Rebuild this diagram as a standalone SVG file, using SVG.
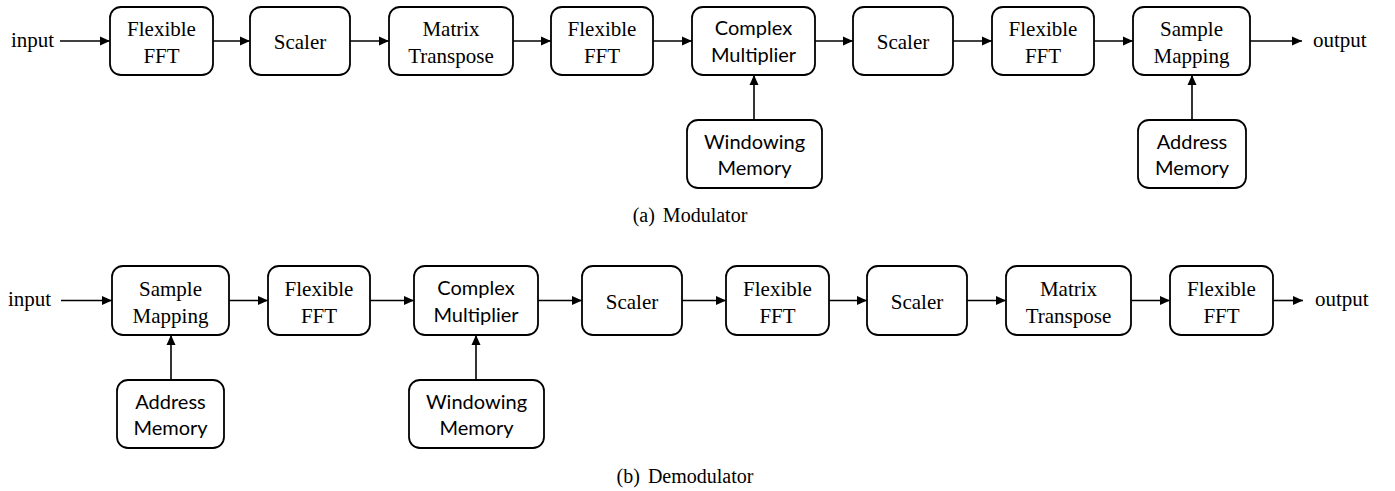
<svg xmlns="http://www.w3.org/2000/svg" width="1395" height="491" viewBox="0 0 1395 491">
<style>
.box{fill:#fff;stroke:#000;stroke-width:1.8}
.s{font-family:"Liberation Serif","Times New Roman",serif;font-size:21px;fill:#000;text-anchor:middle}
.io{font-family:"Liberation Serif","Times New Roman",serif;font-size:21px;fill:#000}
.c{font-family:Lato,"Open Sans",sans-serif;font-size:20px;fill:#000;text-anchor:middle}
.cap{font-family:"Liberation Serif","Times New Roman",serif;font-size:20px;fill:#000;text-anchor:middle;word-spacing:3px}
.ln{stroke:#000;stroke-width:1.6;fill:none;marker-end:url(#ah)}
</style>
<defs>
<marker id="ah" markerWidth="11" markerHeight="10" refX="10" refY="5" orient="auto" markerUnits="userSpaceOnUse">
<path d="M0,0.5 L10,5 L0,9.5 z" fill="#000"/>
</marker>
</defs>
<rect width="1395" height="491" fill="#fff"/>

<!-- (a) Modulator -->
<text class="io" x="11" y="47">input</text>
<g id="a_fft1"><rect class="box" x="110" y="7" width="103" height="68" rx="11"/><text class="s" x="161.5" y="36">Flexible</text><text class="s" x="161.5" y="63">FFT</text></g>
<g id="a_scaler1"><rect class="box" x="250" y="7" width="100" height="68" rx="11"/><text class="s" x="300" y="49">Scaler</text></g>
<g id="a_transpose"><rect class="box" x="389" y="7" width="124" height="68" rx="11"/><text class="s" x="451" y="36">Matrix</text><text class="s" x="451" y="63">Transpose</text></g>
<g id="a_fft2"><rect class="box" x="551" y="7" width="102" height="68" rx="11"/><text class="s" x="602" y="36">Flexible</text><text class="s" x="602" y="63">FFT</text></g>
<g id="a_cmul"><rect class="box" x="692" y="7" width="123" height="68" rx="11"/><text class="c" x="753.5" y="35">Complex</text><text class="c" x="753.5" y="62">Multiplier</text></g>
<g id="a_scaler2"><rect class="box" x="853" y="7" width="100" height="68" rx="11"/><text class="s" x="903" y="49">Scaler</text></g>
<g id="a_fft3"><rect class="box" x="992" y="7" width="102" height="68" rx="11"/><text class="s" x="1043" y="36">Flexible</text><text class="s" x="1043" y="63">FFT</text></g>
<g id="a_map"><rect class="box" x="1133" y="7" width="117" height="68" rx="11"/><text class="s" x="1191.5" y="36">Sample</text><text class="s" x="1191.5" y="63">Mapping</text></g>
<g id="a_win"><rect class="box" x="687" y="120" width="135" height="68" rx="11"/><text class="c" x="754.5" y="149">Windowing</text><text class="c" x="754.5" y="175">Memory</text></g>
<g id="a_addr"><rect class="box" x="1138" y="120" width="108" height="68" rx="11"/><text class="c" x="1192" y="149">Address</text><text class="c" x="1192" y="175">Memory</text></g>
<text class="io" x="1313" y="47">output</text>
<text class="cap" x="690" y="222">(a) Modulator</text>

<!-- (b) Demodulator -->
<text class="io" x="8" y="306">input</text>
<g id="b_map"><rect class="box" x="112" y="266" width="117" height="69" rx="11"/><text class="s" x="170.5" y="295.5">Sample</text><text class="s" x="170.5" y="322.5">Mapping</text></g>
<g id="b_fft1"><rect class="box" x="268" y="266" width="102" height="69" rx="11"/><text class="s" x="319" y="295.5">Flexible</text><text class="s" x="319" y="322.5">FFT</text></g>
<g id="b_cmul"><rect class="box" x="414" y="266" width="124" height="69" rx="11"/><text class="c" x="476" y="294.5">Complex</text><text class="c" x="476" y="321.5">Multiplier</text></g>
<g id="b_scaler1"><rect class="box" x="582" y="266" width="100" height="69" rx="11"/><text class="s" x="632" y="308.5">Scaler</text></g>
<g id="b_fft2"><rect class="box" x="726" y="266" width="103" height="69" rx="11"/><text class="s" x="777.5" y="295.5">Flexible</text><text class="s" x="777.5" y="322.5">FFT</text></g>
<g id="b_scaler2"><rect class="box" x="867" y="266" width="100" height="69" rx="11"/><text class="s" x="917" y="308.5">Scaler</text></g>
<g id="b_transpose"><rect class="box" x="1006" y="266" width="125" height="69" rx="11"/><text class="s" x="1068.5" y="295.5">Matrix</text><text class="s" x="1068.5" y="322.5">Transpose</text></g>
<g id="b_fft3"><rect class="box" x="1170" y="266" width="103" height="69" rx="11"/><text class="s" x="1221.5" y="295.5">Flexible</text><text class="s" x="1221.5" y="322.5">FFT</text></g>
<g id="b_addr"><rect class="box" x="117" y="380" width="107" height="68" rx="11"/><text class="c" x="170.5" y="409">Address</text><text class="c" x="170.5" y="435">Memory</text></g>
<g id="b_win"><rect class="box" x="409" y="380" width="135" height="68" rx="11"/><text class="c" x="476.5" y="409">Windowing</text><text class="c" x="476.5" y="435">Memory</text></g>
<text class="io" x="1315" y="306">output</text>
<text class="cap" x="685" y="483">(b) Demodulator</text>

<g id="connectors">
<line class="ln" x1="60" y1="41" x2="110" y2="41"/>
<line class="ln" x1="213" y1="41" x2="250" y2="41"/>
<line class="ln" x1="350" y1="41" x2="389" y2="41"/>
<line class="ln" x1="513" y1="41" x2="551" y2="41"/>
<line class="ln" x1="653" y1="41" x2="692" y2="41"/>
<line class="ln" x1="815" y1="41" x2="853" y2="41"/>
<line class="ln" x1="953" y1="41" x2="992" y2="41"/>
<line class="ln" x1="1094" y1="41" x2="1133" y2="41"/>
<line class="ln" x1="1250" y1="41" x2="1302" y2="41"/>
<line class="ln" x1="754" y1="120" x2="754" y2="75"/>
<line class="ln" x1="1192" y1="120" x2="1192" y2="75"/>
<line class="ln" x1="61" y1="300.5" x2="112" y2="300.5"/>
<line class="ln" x1="229" y1="300.5" x2="268" y2="300.5"/>
<line class="ln" x1="370" y1="300.5" x2="414" y2="300.5"/>
<line class="ln" x1="538" y1="300.5" x2="582" y2="300.5"/>
<line class="ln" x1="682" y1="300.5" x2="726" y2="300.5"/>
<line class="ln" x1="829" y1="300.5" x2="867" y2="300.5"/>
<line class="ln" x1="967" y1="300.5" x2="1006" y2="300.5"/>
<line class="ln" x1="1131" y1="300.5" x2="1170" y2="300.5"/>
<line class="ln" x1="1273" y1="300.5" x2="1303" y2="300.5"/>
<line class="ln" x1="171" y1="380" x2="171" y2="335"/>
<line class="ln" x1="476" y1="380" x2="476" y2="335"/>
</g>
</svg>
